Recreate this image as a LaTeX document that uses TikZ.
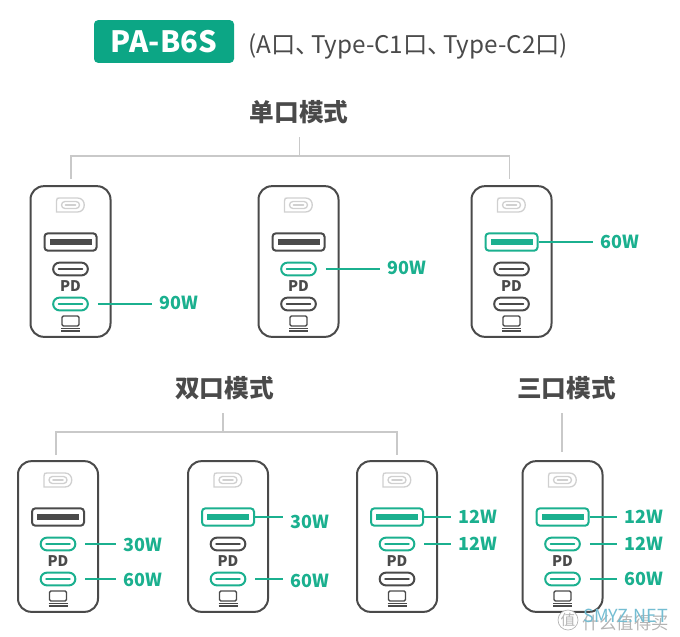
\documentclass[tikz,border=0pt]{standalone}
\usepackage{fontspec}
\setmainfont{Noto Sans CJK SC}
\usetikzlibrary{calc}

\definecolor{brandgreen}{HTML}{0CA685}
\definecolor{portgreen}{HTML}{1BB08F}
\definecolor{bodygray}{HTML}{4A4A4A}
\definecolor{wiregray}{HTML}{C9C9C9}
\definecolor{plugray}{HTML}{D0D0D0}
\definecolor{markblue}{HTML}{74BDD2}
\definecolor{markgray}{HTML}{B4B4B4}

\tikzset{
    title/.style={font=\fontsize{18.5pt}{20pt}\selectfont\bfseries, text=bodygray, inner sep=0pt},
    wire/.style={color=wiregray, line width=0.9pt},
    body/.style={draw=bodygray, line width=1.5pt, rounded corners=10pt, minimum width=60pt, minimum height=113pt, inner sep=0pt},
    usbport/.style={line width=1.5pt, rounded corners=2.5pt, minimum width=39pt, minimum height=13pt, inner sep=0pt},
    cport/.style={line width=1.5pt, rounded corners=4.8pt, minimum width=26pt, minimum height=9.6pt, inner sep=0pt},
    power/.style={font=\fontsize{13.5pt}{15pt}\selectfont\bfseries, text=portgreen, anchor=west, inner sep=0pt},
    powerline/.style={color=portgreen, line width=1pt, shorten >=5.5pt},
    pdtext/.style={font=\fontsize{11pt}{12pt}\selectfont\bfseries, text=bodygray, inner sep=0pt},
}

% name, x, y of the top edge, colours of the A, C1 and C2 ports
\newcommand{\charger}[6]{
    \begin{scope}[shift={(#2,#3)}]
        \node[body] (#1) at (0,75.5) {};
        \draw[color=plugray, line width=1pt] (-14,26) -- (-14,15) .. controls (-14,12) and (-13,12) .. (-11,12) -- (7,12) .. controls (16,12) and (16,26) .. (7,26) -- cycle;
        \draw[color=plugray, line width=1pt, rounded corners=2.6pt] (-9,15.5) rectangle (9,22.5);
        \draw[color=plugray, line width=1.2pt, line cap=round] (-5,19) -- (5,19);
        \node[usbport, draw=#4] (#1a) at (0,56) {};
        \fill[color=#4] (-21,53) rectangle (21,59);
        \node[cport, draw=#5] (#1b) at (0,83) {};
        \draw[color=#5, line width=1.1pt, line cap=round] (-12,83) -- (12,83);
        \node[pdtext] (#1pd) at (0,100) {PD};
        \node[cport, draw=#6] (#1c) at (0,118) {};
        \draw[color=#6, line width=1.1pt, line cap=round] (-12,118) -- (12,118);
        \draw[color=bodygray, line width=1pt, rounded corners=1pt] (-8.5,140) -- (-8.5,130) -- (8.5,130) -- (8.5,140) -- cycle;
        \draw[color=bodygray, line width=1pt] (-9.5,142.5) -- (9.5,142.5);
        \draw[color=bodygray, line width=1pt] (-9.5,145) -- (9.5,145);
    \end{scope}
}

\begin{document}
\begin{tikzpicture}[x=0.75pt, y=-0.75pt]
    \useasboundingbox (0,0) rectangle (680,636);

    \node[fill=brandgreen, rounded corners=3pt, minimum width=105pt, minimum height=32pt, inner sep=0pt, text=white, font=\fontsize{22pt}{24pt}\selectfont\bfseries] (model) at (164,41.5) {PA-B6S};
    \node[anchor=west, inner sep=0pt, text=bodygray, font=\fontsize{18.2pt}{20pt}\selectfont] (ports) at (248,46) {(A口、\kern-0.36em Type-C1口、\kern-0.36em Type-C2口)};

    \node[title] (single) at (299,112) {单口模式};
    \node[title] (double) at (224.5,388) {双口模式};
    \node[title] (triple) at (566.5,388) {三口模式};

    \coordinate (S) at (299.5,137);
    \coordinate (S1) at (299.5,156);
    \coordinate (S2) at (71,179);
    \coordinate (S3) at (509.5,179);
    \coordinate (D) at (223,413);
    \coordinate (D1) at (223,432);
    \coordinate (D2) at (56,455);
    \coordinate (D3) at (397,455);
    \coordinate (T) at (562,413);
    \coordinate (T1) at (562,452);

    \draw[wire] (S) -- (S1);
    \draw[wire] (S2) |- (S1) -| (S3);
    \draw[wire] (D) -- (D1);
    \draw[wire] (D2) |- (D1) -| (D3);
    \draw[wire] (T) -- (T1);

    \charger{pa}{70.5}{186}{bodygray}{bodygray}{portgreen}
    \charger{pb}{298.5}{186}{bodygray}{portgreen}{bodygray}
    \charger{pc}{511.5}{186}{portgreen}{bodygray}{bodygray}
    \charger{pd}{58}{461}{bodygray}{portgreen}{portgreen}
    \charger{pe}{228}{461}{portgreen}{bodygray}{portgreen}
    \charger{pf}{397}{461}{portgreen}{portgreen}{bodygray}
    \charger{pg}{562.5}{461}{portgreen}{portgreen}{portgreen}

    \node[power] (wa) at (159,303) {90W};
    \node[power] (wb) at (387,268) {90W};
    \node[power] (wc) at (600,242) {60W};
    \node[power] (wd1) at (123,545) {30W};
    \node[power] (wd2) at (123,580) {60W};
    \node[power] (we1) at (290,522) {30W};
    \node[power] (we2) at (290,581) {60W};
    \node[power] (wf1) at (458,517) {12W};
    \node[power] (wf2) at (458,544) {12W};
    \node[power] (wg1) at (624,517) {12W};
    \node[power] (wg2) at (624,544) {12W};
    \node[power] (wg3) at (624,579) {60W};

    \draw[powerline, shorten <=6.75pt] (pac.east) -- (pac.east -| wa.west);
    \draw[powerline, shorten <=6.75pt] (pbb.east) -- (pbb.east -| wb.west);
    \draw[powerline] (pca.east) -- (pca.east -| wc.west);
    \draw[powerline, shorten <=6.75pt] (pdb.east) -- (pdb.east -| wd1.west);
    \draw[powerline, shorten <=6.75pt] (pdc.east) -- (pdc.east -| wd2.west);
    \draw[powerline] (pea.east) -- (pea.east -| we1.west);
    \draw[powerline, shorten <=6.75pt] (pec.east) -- (pec.east -| we2.west);
    \draw[powerline] (pfa.east) -- (pfa.east -| wf1.west);
    \draw[powerline, shorten <=6.75pt] (pfb.east) -- (pfb.east -| wf2.west);
    \draw[powerline] (pga.east) -- (pga.east -| wg1.west);
    \draw[powerline, shorten <=6.75pt] (pgb.east) -- (pgb.east -| wg2.west);
    \draw[powerline, shorten <=6.75pt] (pgc.east) -- (pgc.east -| wg3.west);

    % watermark
    \node[circle, fill=white, draw=markgray, line width=0.5pt, minimum size=15pt, inner sep=0pt, text=markgray, font=\fontsize{11pt}{12pt}\selectfont] (logo) at (568,620) {值};
    \node[anchor=west, inner sep=0pt, text=markgray, font=\fontsize{13pt}{14pt}\selectfont] (site) at (582,623) {什么值得买};
    \node[anchor=west, inner sep=0pt, text=markblue, font=\fontsize{13.5pt}{14pt}\selectfont] (mark) at (583,616) {SMYZ.NET};
\end{tikzpicture}
\end{document}
